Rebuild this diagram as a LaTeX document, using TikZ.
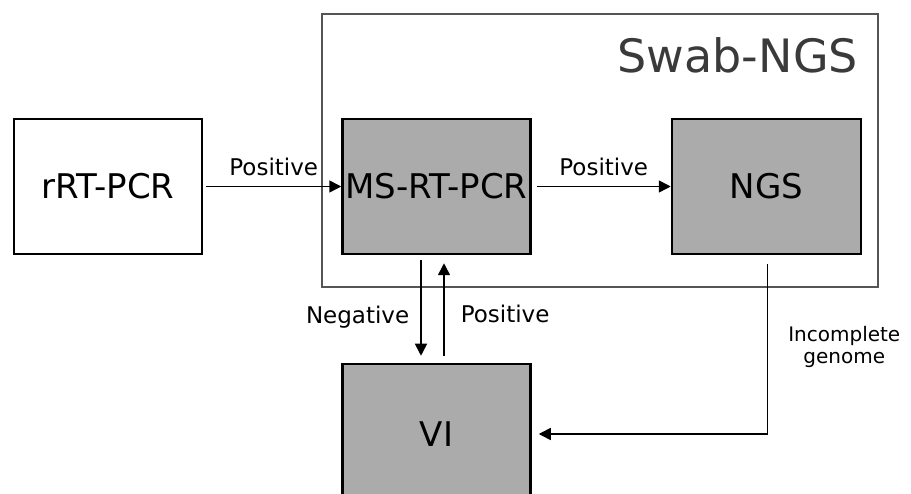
\documentclass[tikz,border=0pt]{standalone}
\usepackage{fontspec}
\setmainfont{DejaVu Sans}
\usetikzlibrary{arrows.meta,positioning}
\definecolor{boxgrey}{RGB}{171,171,171}
\definecolor{framegrey}{RGB}{85,85,85}
\definecolor{titlegrey}{RGB}{58,58,58}
\newcommand{\bigtext}{\fontsize{34}{40}\selectfont}
\newcommand{\smalltext}{\fontsize{23}{27}\selectfont}
\tikzset{
	stepbox/.style={draw=black, line width=2.5pt, minimum width=188pt, minimum height=135pt, inner sep=0pt, font=\bigtext},
	greybox/.style={stepbox, fill=boxgrey},
	flow/.style={line width=1.5pt, -{Triangle[length=12pt,width=12pt]}},
	lbl/.style={font=\smalltext, inner sep=3pt}
}

\begin{document}
\begin{tikzpicture}[x=1pt,y=-1pt]
					\clip (0,0) rectangle (911,494);
					\fill[white] (0,0) rectangle (911,494);

					% Swab-NGS frame
					\node[draw=framegrey, line width=1.5pt, minimum width=556pt, minimum height=273pt] (swab) at (600,150.5) {};
					\node[anchor=base east, inner sep=0pt, text=titlegrey, font=\fontsize{46}{52}\selectfont] (swabtitle) at (858,73) {Swab-NGS};

					% steps
					\node[stepbox] (rrt) at (108,186.5) {rRT-PCR};
					\node[greybox] (ms) at (436.5,186.5) {MS-RT-PCR};
					\node[greybox, minimum width=189pt] (ngs) at (766.5,186.5) {NGS};
					\node[greybox, minimum height=140pt] (vi) at (436.5,434) {VI};

					% connectors
					\draw[flow] ([xshift=3pt]rrt.east) -- node[lbl, above=7pt] {Positive} (ms.west);
					\draw[flow] ([xshift=5pt]ms.east) -- node[lbl, above=7pt] {Positive} (ngs.west);
					\draw[flow] ([xshift=-15.5pt,yshift=-5pt]ms.south) -- node[lbl, pos=0.6, left=8pt] {Negative} ([xshift=-15.5pt,yshift=7pt]vi.north);
					\draw[flow] ([xshift=7.5pt,yshift=7pt]vi.north) -- node[lbl, pos=0.45, right=13pt] {Positive} ([xshift=7.5pt,yshift=-8pt]ms.south);
					\draw[flow] ([xshift=1pt,yshift=-9pt]ngs.south) |- node[lbl, pos=0.245, right=17pt, align=center, font=\fontsize{20}{22}\selectfont] {Incomplete\\genome} ([xshift=7pt]vi.east);

\end{tikzpicture}
\end{document}
